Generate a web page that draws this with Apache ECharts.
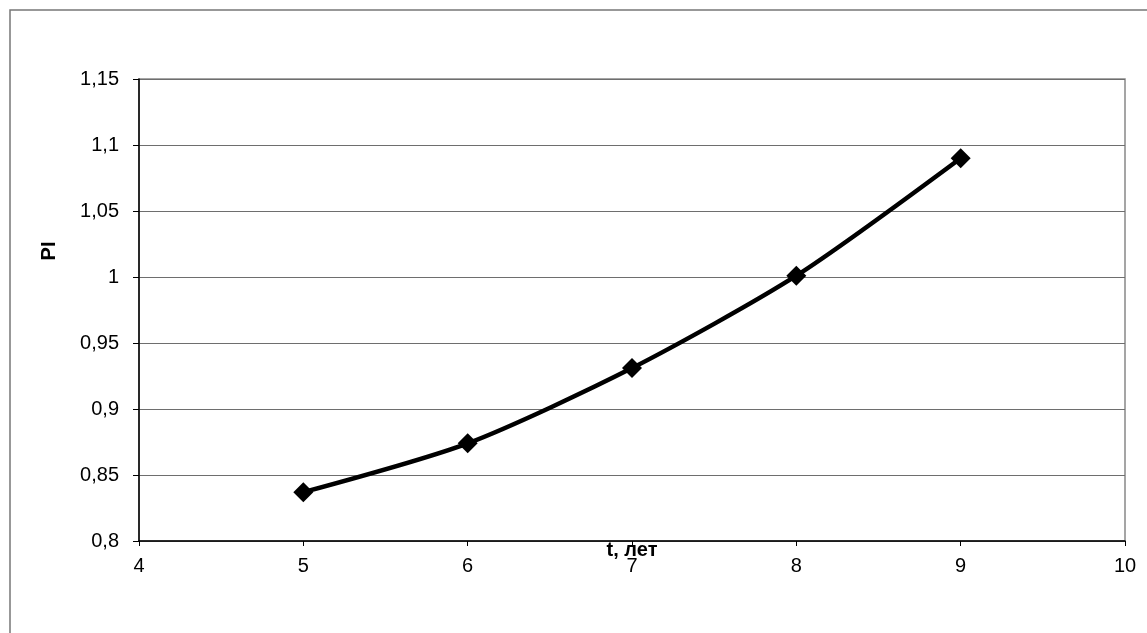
<!DOCTYPE html>
<html>
<head>
<meta charset="utf-8">
<script src="https://cdn.jsdelivr.net/npm/echarts@6/dist/echarts.min.js"></script>
<style>html,body{margin:0;padding:0;background:#fff}#c{width:1147px;height:633px}</style>
</head>
<body>
<div id="c"></div>
<script>
const years = [5, 6, 7, 8, 9];
const piValues = [0.837, 0.874, 0.931, 1.001, 1.090];
const xTitle = 't, лет';
const yTitle = 'PI';

const chart = echarts.init(document.getElementById('c'), null, {renderer: 'canvas'});
const font = '"Liberation Sans", Arial, sans-serif';
chart.setOption({
  animation: false,
  backgroundColor: '#fff',
  grid: {left: 139, right: 22, top: 79, bottom: 92, show: true, borderColor: '#888', borderWidth: 1.5},
  xAxis: {
    type: 'value', min: 4, max: 10, interval: 1,
    axisLine: {lineStyle: {color: '#000', width: 1.5}},
    axisTick: {show: true, length: 5, lineStyle: {color: '#000'}},
    axisLabel: {fontFamily: font, fontSize: 20, color: '#000', margin: 15},
    splitLine: {show: false}
  },
  yAxis: {
    type: 'value', min: 0.8, max: 1.15, interval: 0.05,
    axisLine: {show: true, lineStyle: {color: '#000', width: 1.5}},
    axisTick: {show: true, length: 6, lineStyle: {color: '#000'}},
    axisLabel: {fontFamily: font, fontSize: 20, color: '#000', margin: 20,
      formatter: v => String(Math.round(v * 100) / 100).replace('.', ',')},
    splitLine: {show: true, lineStyle: {color: '#6e6e6e', width: 1.2}}
  },
  graphic: [
    {type: 'rect', shape: {x: 10, y: 10, width: 1200, height: 700}, style: {fill: 'none', stroke: '#777', lineWidth: 1.5}, z: -1},
    {type: 'text', x: 49, y: 251, rotation: Math.PI / 2,
      style: {text: yTitle, font: 'bold 20px ' + font, fill: '#000', align: 'center', verticalAlign: 'middle'}},
    {type: 'text', x: 632, y: 550,
      style: {text: xTitle, font: 'bold 20px ' + font, fill: '#000', align: 'center', verticalAlign: 'middle'}, z: 10}
  ],
  series: [{
    type: 'line',
    data: years.map((y, i) => [y, piValues[i]]),
    smooth: 0.25,
    symbol: 'diamond', symbolSize: 20,
    itemStyle: {color: '#000'},
    lineStyle: {color: '#000', width: 4.5}
  }]
});
</script>
</body>
</html>
